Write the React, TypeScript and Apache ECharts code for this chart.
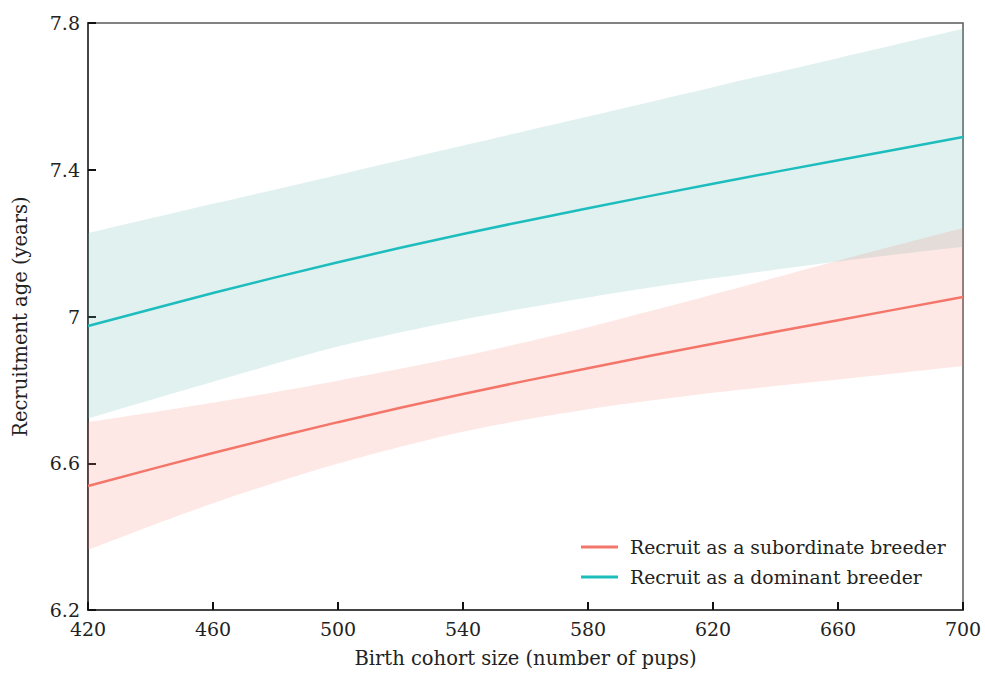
import React, { useEffect, useRef } from "react";
import * as echarts from "echarts";

// Birth cohort size (number of pups) — also the x tick labels
const cohortSize = ["420", "460", "500", "540", "580", "620", "660", "700"];

// Recruit as a dominant breeder
const dominantFit = [6.974, 7.064, 7.148, 7.225, 7.295, 7.362, 7.426, 7.489];
const dominantUpper = [7.227, 7.307, 7.386, 7.466, 7.545, 7.625, 7.704, 7.784];
const dominantLower = [6.722, 6.822, 6.918, 6.992, 7.052, 7.104, 7.150, 7.190];

// Recruit as a subordinate breeder
const subordinateFit = [6.538, 6.628, 6.712, 6.789, 6.859, 6.926, 6.990, 7.053];
const subordinateUpper = [6.712, 6.765, 6.825, 6.892, 6.971, 7.060, 7.152, 7.241];
const subordinateLower = [6.364, 6.491, 6.599, 6.686, 6.747, 6.792, 6.828, 6.865];

const yTicks = [6.2, 6.6, 7, 7.4, 7.8];

const SUB_NAME = "Recruit as a subordinate breeder";
const DOM_NAME = "Recruit as a dominant breeder";

const FONT = "DejaVu Serif";

export default function App() {
  const ref = useRef<HTMLDivElement>(null);

  useEffect(() => {
    if (!ref.current) return;
    const chart = echarts.init(ref.current, null, { renderer: "svg" });

    const diffs = (hi: number[], lo: number[]) =>
      hi.map((h, i) => +(h - lo[i]).toFixed(4));

    const bandBase = (name: string, stack: string, ys: number[]) => ({
      name,
      type: "line",
      stack,
      data: ys,
      symbol: "none",
      smooth: 0.3,
      lineStyle: { opacity: 0 },
      silent: true,
      z: 1,
    });
    const bandFill = (
      name: string,
      stack: string,
      hi: number[],
      lo: number[],
      color: string,
      z: number
    ) => ({
      name,
      type: "line",
      stack,
      data: diffs(hi, lo),
      symbol: "none",
      smooth: 0.3,
      lineStyle: { opacity: 0 },
      areaStyle: { color, opacity: 1 },
      silent: true,
      z,
    });

    chart.setOption({
      animation: false,
      backgroundColor: "#ffffff",
      grid: {
        left: 88,
        right: 22,
        top: 23,
        bottom: 63,
        show: true,
        borderColor: "#5a5a5a",
        borderWidth: 1.5,
        backgroundColor: "transparent",
      },
      legend: {
        data: [
          { name: SUB_NAME, icon: "rect" },
          { name: DOM_NAME, icon: "rect" },
        ],
        orient: "vertical",
        left: 576,
        top: 531,
        itemWidth: 37,
        itemHeight: 3,
        itemGap: 8,
        textStyle: {
          fontFamily: FONT,
          fontSize: 18.8,
          color: "#222",
          padding: [0, 0, 0, 7],
          lineHeight: 22,
        },
      },
      xAxis: {
        type: "category",
        data: cohortSize,
        boundaryGap: false,
        name: "Birth cohort size (number of pups)",
        nameLocation: "middle",
        nameGap: 38,
        nameTextStyle: { fontFamily: FONT, fontSize: 19.5, color: "#222" },
        axisLine: { lineStyle: { color: "#444", width: 2 } },
        axisTick: {
          inside: true,
          length: 8,
          alignWithLabel: true,
          lineStyle: { color: "#111", width: 2 },
        },
        axisLabel: {
          fontFamily: FONT,
          fontSize: 19,
          color: "#222",
          margin: 9,
          interval: 0,
        },
        splitLine: { show: false },
      },
      yAxis: {
        type: "value",
        min: 6.2,
        max: 7.8,
        name: "Recruitment age (years)",
        nameLocation: "middle",
        nameGap: 58,
        nameTextStyle: { fontFamily: FONT, fontSize: 19.5, color: "#222" },
        axisLine: { show: true, lineStyle: { color: "#444", width: 2 } },
        axisTick: {
          show: true,
          inside: true,
          length: 8,
          customValues: yTicks,
          lineStyle: { color: "#111", width: 2 },
        },
        axisLabel: {
          customValues: yTicks,
          fontFamily: FONT,
          fontSize: 19,
          color: "#222",
          margin: 8,
          formatter: (v: number) => String(+(+v).toFixed(1)),
        },
        splitLine: { show: false },
      },
      series: [
        bandBase("dominantLowerBase", "dom", dominantLower),
        bandFill("dominantBand", "dom", dominantUpper, dominantLower, "rgba(100,185,180,0.2)", 2),
        bandBase("subordinateLowerBase", "sub", subordinateLower),
        bandFill("subordinateBand", "sub", subordinateUpper, subordinateLower, "rgba(242,135,115,0.19)", 3),
        {
          name: SUB_NAME,
          type: "line",
          data: subordinateFit,
          symbol: "none",
          smooth: 0.3,
          color: "#F4766A",
          itemStyle: { color: "#F4766A" },
          lineStyle: { color: "#F4766A", width: 2.5 },
          z: 5,
        },
        {
          name: DOM_NAME,
          type: "line",
          data: dominantFit,
          symbol: "none",
          smooth: 0.3,
          color: "#1EBDBD",
          itemStyle: { color: "#1EBDBD" },
          lineStyle: { color: "#1EBDBD", width: 2.5 },
          z: 5,
        },
      ],
    });

    return () => chart.dispose();
  }, []);

  return (
    <div
      ref={ref}
      style={{ position: "absolute", left: 0, top: 0, width: 985, height: 673 }}
    />
  );
}
